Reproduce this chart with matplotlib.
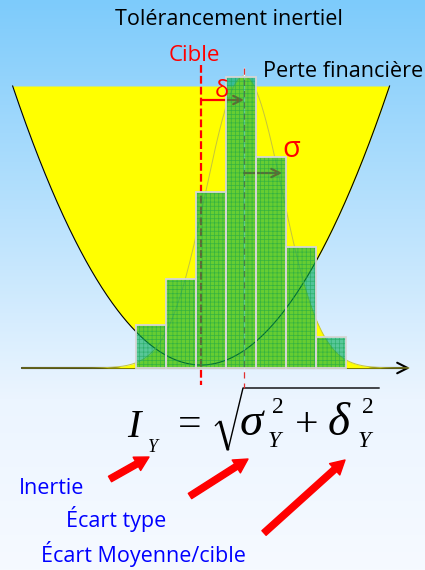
import numpy as np
import matplotlib
matplotlib.use("Agg")
import matplotlib.pyplot as plt

# ---------------- data ----------------
bins = [1, 2, 3, 4, 5, 6, 7]                    # classes de Y
effectifs = [43, 89, 176, 291, 211, 121, 31]    # hauteurs de l'histogramme
cible = 2.67          # valeur cible
moyenne = 4.10        # moyenne de Y
ecart_type = 1.27     # écart type de Y
pic_normale = 292     # hauteur max de la courbe normale
perte_min = 3         # perte au point cible
perte_coef = 7.07     # coefficient de la perte quadratique
perte_max = 282       # niveau où la zone de perte est coupée

titre = "Tolérancement inertiel"
label_cible = "Cible"
label_perte = "Perte financière"
labels_bleus = ["Inertie", "Écart type", "Écart Moyenne/cible"]

# ---------------- figure ----------------
W, H = 425, 570
fig = plt.figure(figsize=(W / 100, H / 100), dpi=100)

# pixel-space overlay (background, annotations)
ax0 = fig.add_axes([0, 0, 1, 1], zorder=0)
ax0.set_xlim(0, W)
ax0.set_ylim(H, 0)
ax0.axis("off")

# background gradient
t = np.linspace(0, 1, H)[:, None]
top = np.array([125, 203, 251]) / 255
mid = np.array([236, 245, 255]) / 255
bot = np.array([246, 250, 255]) / 255
k = 0.70
grad = np.where(t < k, top + (mid - top) * (t / k), mid + (bot - mid) * ((t - k) / (1 - k)))
img = np.repeat(grad[:, None, :], 2, axis=1)
ax0.imshow(img, extent=[0, W, H, 0], aspect="auto", zorder=0)

# chart axes in data units
ax = fig.add_axes([0, 0, 1, 1], zorder=1)
ax.set_xlim(-4.0333, 10.1333)
ax.set_ylim(-202, 368)
ax.axis("off")

# horizontal axis with arrow
ax.annotate("", xy=(9.63, 0), xytext=(-3.3, 0),
            arrowprops=dict(arrowstyle="->,head_length=0.75,head_width=0.38",
                            lw=1.5, color="black", shrinkA=0, shrinkB=0,
                            mutation_scale=10), zorder=1)

# quadratic loss zone (yellow cup)
w = np.sqrt((perte_max - perte_min) / perte_coef)
xp = np.linspace(cible - w, cible + w, 500)
lp = perte_min + perte_coef * (xp - cible) ** 2
ax.fill_between(xp, lp, perte_max, color="#FFFF00", lw=0, zorder=2)
ax.plot(xp, lp, color="black", lw=0.8, zorder=3)

# normal curve (yellow)
xg = np.linspace(-3.3, 9.6, 800)
g = pic_normale * np.exp(-((xg - moyenne) ** 2) / (2 * ecart_type ** 2))
ax.fill_between(xg, 0, g, color="#FFFF00", lw=0, zorder=2)
ax.plot(xg, g, color="#C4C43C", lw=0.7, zorder=3)

# target and mean lines
ax.plot([cible, cible], [303, -17], color="red", lw=1.6, ls=(0, (3.5, 1.4)), zorder=4)
ax.plot([moyenne, moyenne], [300, 0], color="white", lw=1.0, zorder=3.6)
ax.plot([moyenne, moyenne], [300, -20], color="#E03030", lw=0.9, ls=(0, (5, 4)), zorder=4)

# delta and sigma arrows
ax.annotate("", xy=(moyenne, 268), xytext=(cible, 268),
            arrowprops=dict(arrowstyle="->,head_length=0.6,head_width=0.3",
                            lw=1.6, color="red", shrinkA=0, shrinkB=0,
                            mutation_scale=10), zorder=4)
ax.annotate("", xy=(moyenne + ecart_type, 195), xytext=(moyenne, 195),
            arrowprops=dict(arrowstyle="->,head_length=0.6,head_width=0.3",
                            lw=1.6, color="red", shrinkA=0, shrinkB=0,
                            mutation_scale=10), zorder=4)

# histogram
plt.rcParams["hatch.linewidth"] = 0.5
ax.bar(bins, effectifs, width=1.0, facecolor=(0.0, 0.68, 0.33, 0.6),
       edgecolor=(0.05, 0.62, 0.3, 0.55), lw=0, hatch="++++", zorder=5)
ax.bar(bins, effectifs, width=1.0, facecolor="none", edgecolor="#D6D6D6",
       lw=1.3, zorder=6)

# ---------------- texts ----------------
sans = ["Open Sans", "DejaVu Sans"]
tr = ax0.transData
fig.text(115, 25, titre, transform=tr, fontsize=15.5, family=sans,
         color="black", ha="left", va="baseline")
fig.text(194, 61, label_cible, transform=tr, fontsize=16, family=sans,
         color="red", ha="center", va="baseline")
fig.text(263, 77, label_perte, transform=tr, fontsize=15.6, family=sans,
         color="black", ha="left", va="baseline")
fig.text(215, 97, "δ", transform=tr, fontsize=17, family=sans,
         color="red", ha="left", va="baseline")
fig.text(282, 157, "σ", transform=tr, fontsize=21, family=sans,
         color="red", ha="left", va="baseline")

blue = "#0000FF"
fig.text(19, 494, labels_bleus[0], transform=tr, fontsize=15.5, family=sans,
         color=blue, ha="left", va="baseline")
fig.text(66, 527, labels_bleus[1], transform=tr, fontsize=15.5, family=sans,
         color=blue, ha="left", va="baseline")
fig.text(41, 562, labels_bleus[2], transform=tr, fontsize=15.5, family=sans,
         color=blue, ha="left", va="baseline")

# formula I_Y = sqrt(sigma_Y^2 + delta_Y^2)
serif = ["Liberation Serif", "DejaVu Serif"]
def ftxt(x, y, s, size, italic=True):
    fig.text(x, y, s, transform=tr, fontsize=size, family=serif,
             style="italic" if italic else "normal", color="black",
             ha="left", va="baseline")

ftxt(127, 437, "I", 29)
ftxt(148, 452, "Y", 13)
ftxt(178, 436, "=", 30, italic=False)
ftxt(240, 435, "σ", 34)
ftxt(272, 413, "2", 17, italic=False)
ftxt(268, 447, "Y", 17)
ftxt(295, 436, "+", 30, italic=False)
ftxt(328, 435, "δ", 34)
ftxt(362, 413, "2", 17, italic=False)
ftxt(358, 447, "Y", 17)

# radical sign
ax0.plot([215, 220], [426, 421], color="black", lw=1.0, solid_capstyle="butt")
ax0.plot([220, 228], [421, 450], color="black", lw=2.2, solid_capstyle="butt")
ax0.plot([228, 243, 379], [450, 388, 388], color="black", lw=1.0)

# red arrows
for tail, tip in [((110, 479), (149, 457)), ((190, 496), (248, 459)), ((264, 533), (345, 460))]:
    ax0.annotate("", xy=tip, xytext=tail,
                 arrowprops=dict(arrowstyle="simple,head_length=1.0,head_width=1.1,tail_width=0.45",
                                 color="red", shrinkA=0, shrinkB=0, mutation_scale=10))

fig.savefig("out.png", dpi=100)
